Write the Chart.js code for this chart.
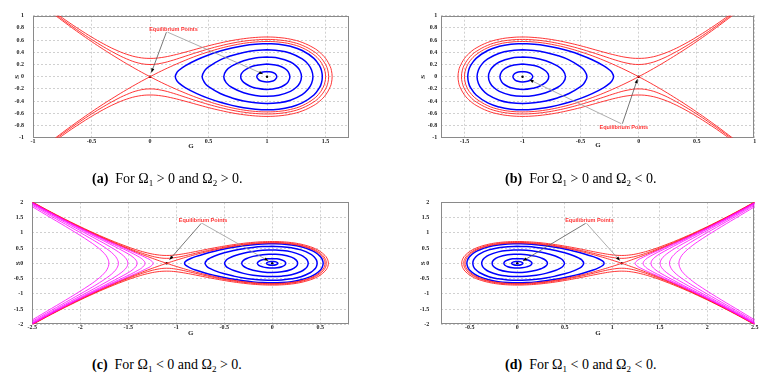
<!DOCTYPE html>
<html><head><meta charset="utf-8">
<script src="https://cdn.jsdelivr.net/npm/chart.js@4.4.0/dist/chart.umd.min.js"></script>
<style>
html,body{margin:0;padding:0;background:#fff;width:768px;height:377px;overflow:hidden;position:relative;}
canvas{position:absolute;}
.cap{position:absolute;font-family:"Liberation Serif","Times New Roman",serif;font-size:14px;color:#000;white-space:nowrap;line-height:16px;}
.cap sub{font-size:9px;vertical-align:baseline;position:relative;top:3px;}
</style></head><body>
<canvas id="ca" width="384" height="160" style="left:0;top:0"></canvas>
<canvas id="cb" width="384" height="160" style="left:384px;top:0"></canvas>
<canvas id="cc" width="384" height="160" style="left:0;top:185px"></canvas>
<canvas id="cd" width="384" height="160" style="left:384px;top:185px"></canvas>
<script>
// ---------- tick values ----------
const xTicksA = [-1,-0.5,0,0.5,1,1.5];
const xTicksB = [-1.5,-1,-0.5,0,0.5,1];
const yTicksAB = [-1,-0.8,-0.6,-0.4,-0.2,0,0.2,0.4,0.6,0.8,1];
const xTicksC = [-2.5,-2,-1.5,-1,-0.5,0,0.5];
const xTicksD = [-0.5,0,0.5,1,1.5,2,2.5];
const yTicksCD = [-2,-1.5,-1,-0.5,0,0.5,1,1.5,2];
const captions = [
  ['(a)','For Ω<sub>1</sub> &gt; 0 and Ω<sub>2</sub> &gt; 0.'],
  ['(b)','For Ω<sub>1</sub> &gt; 0 and Ω<sub>2</sub> &lt; 0.'],
  ['(c)','For Ω<sub>1</sub> &lt; 0 and Ω<sub>2</sub> &gt; 0.'],
  ['(d)','For Ω<sub>1</sub> &lt; 0 and Ω<sub>2</sub> &lt; 0.']
];
const noteText = 'Equilibrium Points';

// ---------- panel (a): upper halves [G, S] ----------
const aSepLeft = [[-0.82,1.02],[-0.8,0.991],[-0.7,0.848],[-0.6,0.71],[-0.5,0.577],[-0.4,0.45],[-0.3,0.329],[-0.2,0.213],[-0.1,0.103],[0,0]];
const aSepLoop = [[0,0],[0.1,0.097],[0.2,0.186],[0.3,0.268],[0.4,0.343],[0.5,0.408],[0.6,0.465],[0.7,0.511],[0.8,0.547],[0.9,0.569],[1,0.577],[1.1,0.568],[1.2,0.537],[1.3,0.475],[1.4,0.361],[1.45,0.265],[1.48,0.171],[1.495,0.086],[1.5,0]];
const aRed1 = [[-0.8,1.011],[-0.7,0.871],[-0.6,0.738],[-0.5,0.611],[-0.4,0.493],[-0.3,0.385],[-0.2,0.292],[-0.1,0.225],[0,0.2],[0.1,0.222],[0.2,0.273],[0.3,0.335],[0.4,0.397],[0.5,0.455],[0.6,0.506],[0.7,0.549],[0.8,0.582],[0.9,0.603],[1,0.611],[1.1,0.602],[1.2,0.573],[1.3,0.515],[1.4,0.413],[1.45,0.332],[1.5,0.2],[1.52,0.096],[1.526,0]];
const aRed2 = [[-0.8,1.035],[-0.7,0.899],[-0.6,0.771],[-0.5,0.651],[-0.4,0.541],[-0.3,0.445],[-0.2,0.368],[-0.1,0.317],[0,0.3],[0.1,0.315],[0.2,0.353],[0.3,0.402],[0.4,0.455],[0.5,0.507],[0.6,0.553],[0.7,0.593],[0.8,0.623],[0.9,0.643],[1,0.651],[1.1,0.642],[1.2,0.615],[1.3,0.562],[1.4,0.47],[1.45,0.4],[1.5,0.3],[1.54,0.164],[1.55,0.1],[1.556,0]];
const aBlue1 = [[0.216,0],[0.23,0.069],[0.25,0.11],[0.3,0.179],[0.4,0.278],[0.5,0.356],[0.6,0.42],[0.7,0.47],[0.8,0.509],[0.9,0.533],[1,0.542],[1.1,0.532],[1.2,0.498],[1.3,0.43],[1.4,0.301],[1.45,0.173],[1.465,0.1],[1.472,0]];
const aBlue2 = [[0.445,0],[0.47,0.108],[0.5,0.163],[0.6,0.276],[0.7,0.348],[0.8,0.398],[0.9,0.429],[1,0.44],[1.1,0.427],[1.2,0.385],[1.3,0.292],[1.35,0.206],[1.38,0.111],[1.392,0]];
const aBlue3 = [[0.63,0],[0.65,0.097],[0.7,0.177],[0.8,0.262],[0.9,0.307],[1,0.321],[1.1,0.304],[1.2,0.241],[1.25,0.174],[1.28,0.101],[1.294,0]];
const aBlue4 = [[0.775,0],[0.78,0.045],[0.8,0.093],[0.85,0.152],[0.9,0.184],[1,0.208],[1.1,0.181],[1.15,0.136],[1.18,0.084],[1.195,0]];
const aBlue5 = [[0.912,0],[0.93,0.052],[0.95,0.07],[1,0.086],[1.05,0.069],[1.07,0.047],[1.083,0]];
const aEq = [[0,0],[1,0]];

// ---------- panel (b) ----------
const bSepLeft = [[0.82,1.02],[0.8,0.991],[0.7,0.848],[0.6,0.71],[0.5,0.577],[0.4,0.45],[0.3,0.329],[0.2,0.213],[0.1,0.103],[0,0]];
const bSepLoop = [[0,0],[-0.1,0.097],[-0.2,0.186],[-0.3,0.268],[-0.4,0.343],[-0.5,0.408],[-0.6,0.465],[-0.7,0.511],[-0.8,0.547],[-0.9,0.569],[-1,0.577],[-1.1,0.568],[-1.2,0.537],[-1.3,0.475],[-1.4,0.361],[-1.45,0.265],[-1.48,0.171],[-1.495,0.086],[-1.5,0]];
const bRed1 = [[0.8,1.011],[0.7,0.871],[0.6,0.738],[0.5,0.611],[0.4,0.493],[0.3,0.385],[0.2,0.292],[0.1,0.225],[0,0.2],[-0.1,0.222],[-0.2,0.273],[-0.3,0.335],[-0.4,0.397],[-0.5,0.455],[-0.6,0.506],[-0.7,0.549],[-0.8,0.582],[-0.9,0.603],[-1,0.611],[-1.1,0.602],[-1.2,0.573],[-1.3,0.515],[-1.4,0.413],[-1.45,0.332],[-1.5,0.2],[-1.52,0.096],[-1.526,0]];
const bRed2 = [[0.8,1.035],[0.7,0.899],[0.6,0.771],[0.5,0.651],[0.4,0.541],[0.3,0.445],[0.2,0.368],[0.1,0.317],[0,0.3],[-0.1,0.315],[-0.2,0.353],[-0.3,0.402],[-0.4,0.455],[-0.5,0.507],[-0.6,0.553],[-0.7,0.593],[-0.8,0.623],[-0.9,0.643],[-1,0.651],[-1.1,0.642],[-1.2,0.615],[-1.3,0.562],[-1.4,0.47],[-1.45,0.4],[-1.5,0.3],[-1.54,0.164],[-1.55,0.1],[-1.556,0]];
const bBlue1 = [[-0.216,0],[-0.23,0.069],[-0.25,0.11],[-0.3,0.179],[-0.4,0.278],[-0.5,0.356],[-0.6,0.42],[-0.7,0.47],[-0.8,0.509],[-0.9,0.533],[-1,0.542],[-1.1,0.532],[-1.2,0.498],[-1.3,0.43],[-1.4,0.301],[-1.45,0.173],[-1.465,0.1],[-1.472,0]];
const bBlue2 = [[-0.445,0],[-0.47,0.108],[-0.5,0.163],[-0.6,0.276],[-0.7,0.348],[-0.8,0.398],[-0.9,0.429],[-1,0.44],[-1.1,0.427],[-1.2,0.385],[-1.3,0.292],[-1.35,0.206],[-1.38,0.111],[-1.392,0]];
const bBlue3 = [[-0.63,0],[-0.65,0.097],[-0.7,0.177],[-0.8,0.262],[-0.9,0.307],[-1,0.321],[-1.1,0.304],[-1.2,0.241],[-1.25,0.174],[-1.28,0.101],[-1.294,0]];
const bBlue4 = [[-0.775,0],[-0.78,0.045],[-0.8,0.093],[-0.85,0.152],[-0.9,0.184],[-1,0.208],[-1.1,0.181],[-1.15,0.136],[-1.18,0.084],[-1.195,0]];
const bBlue5 = [[-0.912,0],[-0.93,0.052],[-0.95,0.07],[-1,0.086],[-1.05,0.069],[-1.07,0.047],[-1.083,0]];
const bEq = [[-1,0],[0,0]];

// ---------- panel (c) ----------
const cSepLeft = [[-2.5,1.996],[-2.3,1.654],[-2.1,1.329],[-1.9,1.022],[-1.7,0.735],[-1.5,0.468],[-1.4,0.342],[-1.3,0.222],[-1.2,0.108],[-1.1,0]];
const cSepLoop = [[-1.1,0],[-1,0.102],[-0.9,0.197],[-0.8,0.285],[-0.7,0.365],[-0.6,0.438],[-0.5,0.502],[-0.4,0.557],[-0.3,0.602],[-0.2,0.636],[-0.1,0.658],[0,0.666],[0.1,0.657],[0.2,0.628],[0.3,0.572],[0.4,0.474],[0.45,0.4],[0.5,0.292],[0.53,0.188],[0.545,0.095],[0.55,0]];
const cRed1 = [[-2.5,2.003],[-2.3,1.662],[-2.1,1.339],[-1.9,1.035],[-1.7,0.753],[-1.5,0.495],[-1.4,0.379],[-1.3,0.275],[-1.2,0.195],[-1.1,0.162],[-1,0.192],[-0.9,0.255],[-0.8,0.328],[-0.7,0.4],[-0.6,0.467],[-0.5,0.528],[-0.4,0.58],[-0.3,0.624],[-0.2,0.657],[-0.1,0.678],[0,0.686],[0.1,0.677],[0.2,0.649],[0.3,0.594],[0.4,0.501],[0.45,0.432],[0.5,0.334],[0.53,0.249],[0.55,0.162],[0.56,0.089],[0.563,0]];
const cRed2 = [[-2.5,2.013],[-2.3,1.674],[-2.1,1.354],[-1.9,1.054],[-1.7,0.779],[-1.5,0.534],[-1.4,0.428],[-1.3,0.34],[-1.2,0.279],[-1.1,0.257],[-1,0.277],[-0.9,0.324],[-0.8,0.384],[-0.7,0.447],[-0.6,0.508],[-0.5,0.564],[-0.4,0.614],[-0.3,0.655],[-0.2,0.687],[-0.1,0.707],[0,0.714],[0.1,0.706],[0.2,0.679],[0.3,0.627],[0.4,0.54],[0.45,0.476],[0.5,0.389],[0.55,0.257],[0.57,0.171],[0.58,0.099],[0.585,0]];
const cMag1 = [[-2.5,1.99],[-2.3,1.647],[-2.1,1.32],[-1.9,1.011],[-1.7,0.719],[-1.5,0.442],[-1.4,0.306],[-1.3,0.16],[-1.27,0.107],[-1.24,0]];
const cMag2 = [[-2.5,1.98],[-2.3,1.635],[-2.1,1.305],[-1.9,0.991],[-1.7,0.69],[-1.5,0.394],[-1.4,0.231],[-1.35,0.124],[-1.325,0]];
const cMag3 = [[-2.5,1.965],[-2.3,1.616],[-2.1,1.282],[-1.9,0.96],[-1.7,0.645],[-1.5,0.308],[-1.45,0.199],[-1.42,0.104],[-1.408,0]];
const cMag4 = [[-2.5,1.939],[-2.3,1.585],[-2.1,1.242],[-1.9,0.906],[-1.7,0.562],[-1.6,0.367],[-1.55,0.245],[-1.52,0.141],[-1.504,0]];
const cMag5 = [[-2.5,1.903],[-2.3,1.54],[-2.1,1.184],[-1.9,0.826],[-1.8,0.636],[-1.7,0.42],[-1.65,0.283],[-1.62,0.166],[-1.603,0]];
const cMag6 = [[-2.5,1.855],[-2.3,1.481],[-2.1,1.106],[-1.9,0.708],[-1.8,0.473],[-1.75,0.323],[-1.72,0.195],[-1.702,0]];
const cBlue1 = [[-0.914,0],[-0.9,0.071],[-0.85,0.157],[-0.8,0.218],[-0.7,0.316],[-0.6,0.397],[-0.5,0.467],[-0.4,0.526],[-0.3,0.574],[-0.2,0.609],[-0.1,0.632],[0,0.64],[0.1,0.631],[0.2,0.601],[0.3,0.541],[0.4,0.437],[0.45,0.356],[0.5,0.227],[0.52,0.137],[0.531,0]];
const cBlue2 = [[-0.7,0],[-0.68,0.105],[-0.65,0.168],[-0.6,0.241],[-0.5,0.344],[-0.4,0.42],[-0.3,0.479],[-0.2,0.521],[-0.1,0.547],[0,0.557],[0.1,0.546],[0.2,0.51],[0.3,0.439],[0.4,0.302],[0.44,0.2],[0.46,0.111],[0.468,0]];
const cBlue3 = [[-0.497,0],[-0.48,0.101],[-0.45,0.167],[-0.4,0.238],[-0.3,0.33],[-0.2,0.389],[-0.1,0.424],[0,0.436],[0.1,0.422],[0.2,0.375],[0.3,0.27],[0.35,0.163],[0.365,0.105],[0.375,0]];
const cBlue4 = [[-0.318,0],[-0.3,0.095],[-0.25,0.178],[-0.2,0.227],[-0.1,0.282],[0,0.3],[0.1,0.28],[0.2,0.201],[0.25,0.104],[0.265,0]];
const cBlue5 = [[-0.155,0],[-0.14,0.065],[-0.1,0.117],[-0.05,0.146],[0,0.155],[0.05,0.146],[0.1,0.111],[0.13,0.063],[0.141,0]];
const cBlue6 = [[-0.06,0],[-0.04,0.047],[0,0.063],[0.04,0.047],[0.06,0]];
const cEq = [[-1.1,0],[0,0]];

// ---------- panel (d) ----------
const dSepLeft = [[2.5,1.996],[2.3,1.654],[2.1,1.329],[1.9,1.022],[1.7,0.735],[1.5,0.468],[1.4,0.342],[1.3,0.222],[1.2,0.108],[1.1,0]];
const dSepLoop = [[1.1,0],[1,0.102],[0.9,0.197],[0.8,0.285],[0.7,0.365],[0.6,0.438],[0.5,0.502],[0.4,0.557],[0.3,0.602],[0.2,0.636],[0.1,0.658],[0,0.666],[-0.1,0.657],[-0.2,0.628],[-0.3,0.572],[-0.4,0.474],[-0.45,0.4],[-0.5,0.292],[-0.53,0.188],[-0.545,0.095],[-0.55,0]];
const dRed1 = [[2.5,2.003],[2.3,1.662],[2.1,1.339],[1.9,1.035],[1.7,0.753],[1.5,0.495],[1.4,0.379],[1.3,0.275],[1.2,0.195],[1.1,0.162],[1,0.192],[0.9,0.255],[0.8,0.328],[0.7,0.4],[0.6,0.467],[0.5,0.528],[0.4,0.58],[0.3,0.624],[0.2,0.657],[0.1,0.678],[0,0.686],[-0.1,0.677],[-0.2,0.649],[-0.3,0.594],[-0.4,0.501],[-0.45,0.432],[-0.5,0.334],[-0.53,0.249],[-0.55,0.162],[-0.56,0.089],[-0.563,0]];
const dRed2 = [[2.5,2.013],[2.3,1.674],[2.1,1.354],[1.9,1.054],[1.7,0.779],[1.5,0.534],[1.4,0.428],[1.3,0.34],[1.2,0.279],[1.1,0.257],[1,0.277],[0.9,0.324],[0.8,0.384],[0.7,0.447],[0.6,0.508],[0.5,0.564],[0.4,0.614],[0.3,0.655],[0.2,0.687],[0.1,0.707],[0,0.714],[-0.1,0.706],[-0.2,0.679],[-0.3,0.627],[-0.4,0.54],[-0.45,0.476],[-0.5,0.389],[-0.55,0.257],[-0.57,0.171],[-0.58,0.099],[-0.585,0]];
const dMag1 = [[2.5,1.99],[2.3,1.647],[2.1,1.32],[1.9,1.011],[1.7,0.719],[1.5,0.442],[1.4,0.306],[1.3,0.16],[1.27,0.107],[1.24,0]];
const dMag2 = [[2.5,1.98],[2.3,1.635],[2.1,1.305],[1.9,0.991],[1.7,0.69],[1.5,0.394],[1.4,0.231],[1.35,0.124],[1.325,0]];
const dMag3 = [[2.5,1.965],[2.3,1.616],[2.1,1.282],[1.9,0.96],[1.7,0.645],[1.5,0.308],[1.45,0.199],[1.42,0.104],[1.408,0]];
const dMag4 = [[2.5,1.939],[2.3,1.585],[2.1,1.242],[1.9,0.906],[1.7,0.562],[1.6,0.367],[1.55,0.245],[1.52,0.141],[1.504,0]];
const dMag5 = [[2.5,1.903],[2.3,1.54],[2.1,1.184],[1.9,0.826],[1.8,0.636],[1.7,0.42],[1.65,0.283],[1.62,0.166],[1.603,0]];
const dMag6 = [[2.5,1.855],[2.3,1.481],[2.1,1.106],[1.9,0.708],[1.8,0.473],[1.75,0.323],[1.72,0.195],[1.702,0]];
const dBlue1 = [[0.914,0],[0.9,0.071],[0.85,0.157],[0.8,0.218],[0.7,0.316],[0.6,0.397],[0.5,0.467],[0.4,0.526],[0.3,0.574],[0.2,0.609],[0.1,0.632],[0,0.64],[-0.1,0.631],[-0.2,0.601],[-0.3,0.541],[-0.4,0.437],[-0.45,0.356],[-0.5,0.227],[-0.52,0.137],[-0.531,0]];
const dBlue2 = [[0.7,0],[0.68,0.105],[0.65,0.168],[0.6,0.241],[0.5,0.344],[0.4,0.42],[0.3,0.479],[0.2,0.521],[0.1,0.547],[0,0.557],[-0.1,0.546],[-0.2,0.51],[-0.3,0.439],[-0.4,0.302],[-0.44,0.2],[-0.46,0.111],[-0.468,0]];
const dBlue3 = [[0.497,0],[0.48,0.101],[0.45,0.167],[0.4,0.238],[0.3,0.33],[0.2,0.389],[0.1,0.424],[0,0.436],[-0.1,0.422],[-0.2,0.375],[-0.3,0.27],[-0.35,0.163],[-0.365,0.105],[-0.375,0]];
const dBlue4 = [[0.318,0],[0.3,0.095],[0.25,0.178],[0.2,0.227],[0.1,0.282],[0,0.3],[-0.1,0.28],[-0.2,0.201],[-0.25,0.104],[-0.265,0]];
const dBlue5 = [[0.155,0],[0.14,0.065],[0.1,0.117],[0.05,0.146],[0,0.155],[-0.05,0.146],[-0.1,0.111],[-0.13,0.063],[-0.141,0]];
const dBlue6 = [[0.06,0],[0.04,0.047],[0,0.063],[-0.04,0.047],[-0.06,0]];
const dEq = [[0,0],[1.1,0]];

// ---------- curve builders (mirror each upper half to S<0) ----------
function neg(p){ return [p[0], -p[1]]; }
function closedLoop(up){
  const ring = up.concat(up.slice(1,-1).reverse().map(neg));
  let k = 0; ring.forEach((p,i)=>{ if (p[1] > ring[k][1]) k = i; });
  const r = ring.slice(k).concat(ring.slice(0,k)); r.push(r[0]); return r;
}
function openCurve(up){ return up.concat(up.slice(0,-1).reverse().map(neg)); }
function separatrix(left, loop){
  return left.concat(loop.slice(1).map(neg)).concat(loop.slice(0,-1).reverse()).concat(left.slice(0,-1).reverse().map(neg));
}

const BLUE = '#0000ff', RED = '#ff2020', MAG = '#ff00ff';
function line(pts, color, w){
  return {data: pts.map(p=>({x:p[0], y:p[1]})), showLine:true, borderColor:color, backgroundColor:color,
          borderWidth:w, pointRadius:0, tension:0.4, fill:false, clip:0};
}
function eqSet(pts){
  return {data: pts.map(p=>({x:p[0], y:p[1]})), showLine:false, pointRadius:1.2, pointBackgroundColor:'#000', pointBorderWidth:0};
}

const setsA = [
  line(separatrix(aSepLeft,aSepLoop),RED,0.9), line(openCurve(aRed1),RED,0.9), line(openCurve(aRed2),RED,0.9),
  line(closedLoop(aBlue1),BLUE,1.5), line(closedLoop(aBlue2),BLUE,1.5), line(closedLoop(aBlue3),BLUE,1.5),
  line(closedLoop(aBlue4),BLUE,1.5), line(closedLoop(aBlue5),BLUE,1.5), eqSet(aEq)];
const setsB = [
  line(separatrix(bSepLeft,bSepLoop),RED,0.9), line(openCurve(bRed1),RED,0.9), line(openCurve(bRed2),RED,0.9),
  line(closedLoop(bBlue1),BLUE,1.5), line(closedLoop(bBlue2),BLUE,1.5), line(closedLoop(bBlue3),BLUE,1.5),
  line(closedLoop(bBlue4),BLUE,1.5), line(closedLoop(bBlue5),BLUE,1.5), eqSet(bEq)];
const setsC = [
  line(openCurve(cMag1),MAG,0.8), line(openCurve(cMag2),MAG,0.8), line(openCurve(cMag3),MAG,0.8),
  line(openCurve(cMag4),MAG,0.8), line(openCurve(cMag5),MAG,0.8), line(openCurve(cMag6),MAG,0.8),
  line(separatrix(cSepLeft,cSepLoop),RED,0.9), line(openCurve(cRed1),RED,0.9), line(openCurve(cRed2),RED,0.9),
  line(closedLoop(cBlue1),BLUE,1.5), line(closedLoop(cBlue2),BLUE,1.5), line(closedLoop(cBlue3),BLUE,1.5),
  line(closedLoop(cBlue4),BLUE,1.5), line(closedLoop(cBlue5),BLUE,1.5), line(closedLoop(cBlue6),BLUE,1.5), eqSet(cEq)];
const setsD = [
  line(openCurve(dMag1),MAG,0.8), line(openCurve(dMag2),MAG,0.8), line(openCurve(dMag3),MAG,0.8),
  line(openCurve(dMag4),MAG,0.8), line(openCurve(dMag5),MAG,0.8), line(openCurve(dMag6),MAG,0.8),
  line(separatrix(dSepLeft,dSepLoop),RED,0.9), line(openCurve(dRed1),RED,0.9), line(openCurve(dRed2),RED,0.9),
  line(closedLoop(dBlue1),BLUE,1.5), line(closedLoop(dBlue2),BLUE,1.5), line(closedLoop(dBlue3),BLUE,1.5),
  line(closedLoop(dBlue4),BLUE,1.5), line(closedLoop(dBlue5),BLUE,1.5), line(closedLoop(dBlue6),BLUE,1.5), eqSet(dEq)];

// ---------- layout (positions / styles) ----------
const panels = [
  {id:'ca', area:[33,349,15.7,137.7], x:[-1,1.7], y:[-1,1], xt:xTicksA, yt:yTicksAB, yPad:9, yTitle:12.5, xTitle:10.1, sets:setsA,
   note:{at:[0.2,0.78], lines:[[[0.14,0.73],[0.012,0.07],'#555'],[[0.15,0.73],[0.965,0.045],'#999']]}},
  {id:'cb', area:[57.3,370.7,15.7,137.7], x:[-1.7,1], y:[-1,1], xt:xTicksB, yt:yTicksAB, yPad:4, yTitle:34.8, xTitle:10.8, sets:setsB,
   note:{at:[-0.127,-0.84], lines:[[[-0.14,-0.77],[-0.01,-0.04],'#555'],[[-0.15,-0.77],[-0.94,-0.05],'#999']]}},
  {id:'cc', area:[32.3,349,17.3,139.3], x:[-2.5,0.8], y:[-2,2], xt:xTicksC, yt:yTicksCD, yPad:9, yTitle:13.8, xTitle:7.8, sets:setsC,
   note:{at:[-0.72,1.4], lines:[[[-0.74,1.31],[-1.07,0.12],'#555'],[[-0.73,1.31],[-0.04,0.08],'#999']]}},
  {id:'cd', area:[57.3,370.7,17.3,139.3], x:[-0.8,2.5], y:[-2,2], xt:xTicksD, yt:yTicksCD, yPad:12, yTitle:34.8, xTitle:7.8, sets:setsD,
   note:{at:[0.76,1.4], lines:[[[0.72,1.31],[0.06,0.08],'#555'],[[0.73,1.31],[1.08,0.09],'#999']]}}
];

const boxPlugin = {
  id:'box',
  beforeDatasetsDraw(chart){
    const a = chart.chartArea, c = chart.ctx;
    c.save(); c.strokeStyle = '#8a8a8a'; c.lineWidth = 1;
    c.strokeRect(Math.round(a.left)+0.5, Math.round(a.top)+0.5, Math.round(a.right-a.left)-1, Math.round(a.bottom-a.top)-1);
    c.restore();
  }
};
const notePlugin = {
  id:'eqNote',
  afterDatasetsDraw(chart, args, opt){
    if (!opt || !opt.at) return;
    const xs = chart.scales.x, ys = chart.scales.y, c = chart.ctx;
    const P = p => [xs.getPixelForValue(p[0]), ys.getPixelForValue(p[1])];
    c.save();
    opt.lines.forEach(([f,t,col])=>{
      const a = P(f), b = P(t);
      c.strokeStyle = col; c.lineWidth = 0.8;
      c.beginPath(); c.moveTo(a[0],a[1]); c.lineTo(b[0],b[1]); c.stroke();
      const ang = Math.atan2(b[1]-a[1], b[0]-a[0]), L = 4, W = 1.6;
      c.fillStyle = '#000'; c.beginPath();
      c.moveTo(b[0],b[1]);
      c.lineTo(b[0]-L*Math.cos(ang)+W*Math.sin(ang), b[1]-L*Math.sin(ang)-W*Math.cos(ang));
      c.lineTo(b[0]-L*Math.cos(ang)-W*Math.sin(ang), b[1]-L*Math.sin(ang)+W*Math.cos(ang));
      c.closePath(); c.fill();
    });
    const t = P(opt.at);
    c.fillStyle = '#ff3333'; c.font = 'bold 5.5px "Liberation Sans", Arial, sans-serif';
    c.textAlign = 'center'; c.textBaseline = 'middle';
    c.fillText(noteText, t[0], t[1]);
    c.restore();
  }
};

const tickFont = {family:'"Liberation Serif", serif', size:6, weight:'bold'};
const titleFont = {family:'"Liberation Serif", serif', size:7, weight:'bold'};

panels.forEach(p=>{
  const cv = document.getElementById(p.id);
  const W = cv.width, H = cv.height;
  new Chart(cv, {
    type:'scatter',
    data:{datasets:p.sets},
    plugins:[boxPlugin, notePlugin],
    options:{
      responsive:false, animation:false, devicePixelRatio:1,
      layout:{padding:{left:0, top:p.area[2], right:W-p.area[1], bottom:0}},
      plugins:{legend:{display:false}, tooltip:{enabled:false}, eqNote:p.note},
      scales:{
        x:{type:'linear', min:p.x[0], max:p.x[1],
           afterBuildTicks:s=>{ s.ticks = p.xt.map(v=>({value:v})); },
           afterFit:s=>{ s.height = H - p.area[3]; },
           ticks:{font:tickFont, color:'#222', padding:0, maxRotation:0, autoSkip:false, callback:v=>String(v)},
           grid:{color:'#c4c4c4', lineWidth:0.8, drawTicks:false},
           border:{display:false, dash:[2,2]},
           title:{display:true, text:'G', font:titleFont, color:'#222', padding:{top:0,bottom:p.xTitle}}},
        y:{type:'linear', min:p.y[0], max:p.y[1],
           afterBuildTicks:s=>{ s.ticks = p.yt.map(v=>({value:v})); },
           afterFit:s=>{ s.width = p.area[0]; },
           ticks:{font:tickFont, color:'#222', padding:p.yPad, autoSkip:false, callback:v=>String(v)},
           grid:{color:'#c4c4c4', lineWidth:0.8, drawTicks:false},
           border:{display:false, dash:[2,2]},
           title:{display:true, text:'S', font:titleFont, color:'#222', padding:{top:p.yTitle,bottom:0}}}
      }
    }
  });
});

// captions
const capPos = [[92,171],[505,171],[92,357],[505,357]];
captions.forEach((c,i)=>{
  const d = document.createElement('div');
  d.className = 'cap';
  d.style.left = capPos[i][0]+'px'; d.style.top = capPos[i][1]+'px';
  d.innerHTML = '<b>'+c[0]+'</b>&nbsp; '+c[1];
  document.body.appendChild(d);
});
</script>
</body></html>
